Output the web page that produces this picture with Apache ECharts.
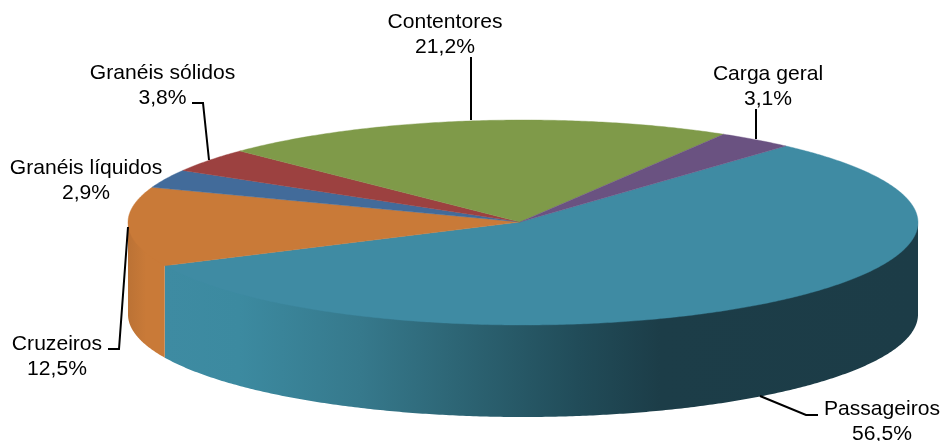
<!DOCTYPE html>
<html>
<head>
<meta charset="utf-8">
<style>html,body{margin:0;padding:0;background:#fff}#c{width:943px;height:441px}</style>
<script src="https://cdn.jsdelivr.net/npm/echarts@6/dist/echarts.min.js"></script>
</head>
<body>
<div id="c"></div>
<script>
const categories = ['Passageiros','Cruzeiros','Granéis líquidos','Granéis sólidos','Contentores','Carga geral'];
const shares = [56.5,12.5,2.9,3.8,21.2,3.1];
const colors = ['#3f8ba3','#c97a38','#426b9a','#9c4140','#7f9a49','#6a5281'];

const labelPos = [[882,422],[57,356.5],[86,181],[162.5,86],[445,35],[768,87]];
const leaders = [
  [[760,396],[806,415],[818,415]],
  [[108,349],[119,349],[128,227]],
  [],
  [[192,103],[203,103],[209,160]],
  [[471,57],[471,120]],
  [[756,109],[756,139]]
];
const CX=523, CY=222.5, RX=395, RY=102.5, DEPTH=92, AX=520, AY=222, START=48.3;

const total = shares.reduce((a,b)=>a+b,0);
let acc = START;
const spans = shares.map(v=>{const s=acc; acc-=v/total*360; return [s,acc];});
const rim = (t,dy)=>[CX+RX*Math.cos(t*Math.PI/180), CY-RY*Math.sin(t*Math.PI/180)+(dy||0)];
function arc(a,b,dy){const n=Math.max(2,Math.ceil(Math.abs(a-b)*2)),p=[];for(let i=0;i<=n;i++)p.push(rim(a+(b-a)*i/n,dy));return p;}

const chart = echarts.init(document.getElementById('c'),null,{renderer:'canvas'});
const fmt = v=>v.toFixed(1).replace('.',',')+'%';
const indexData = shares.map((v,i)=>[i,v]);

function wallItem(params,api){
  const i=api.value(0), s=spans[i];
  let a,b,fill;
  if(i===0){a=0;b=s[1];
    fill=new echarts.graphic.LinearGradient(918,0,164,0,[
      {offset:0,color:'#1c3c47'},{offset:0.342,color:'#1c3d48'},{offset:0.452,color:'#214c59'},
      {offset:0.585,color:'#2b6170'},{offset:0.74,color:'#36798c'},{offset:0.9,color:'#3c8aa0'},{offset:1,color:'#3e8ba2'}],true);
  } else if(i===1){
    a=spans[0][1];b=-180;
    fill=new echarts.graphic.LinearGradient(128,0,164,0,[{offset:0,color:'#bb7235'},{offset:0.5,color:'#c97a38'},{offset:1,color:'#c97a38'}],true);
  } else return null;
  // the upper edge runs a little under the top face so no seam shows along the rim
  const top=arc(a,b,-3), bot=arc(b,a,DEPTH);
  return {type:'polygon',shape:{points:top.concat(bot)},style:{fill:fill,stroke:null}};
}
function topItem(params,api){
  const i=api.value(0), s=spans[i];
  return {type:'polygon',shape:{points:[[AX,AY]].concat(arc(s[0],s[1],0))},
    style:{fill:colors[i],stroke:colors[i],lineWidth:0.4}};
}
function labelItem(params,api){
  const i=api.value(0), p=labelPos[i], ch=[];
  if(leaders[i].length) ch.push({type:'polyline',shape:{points:leaders[i]},style:{fill:null,stroke:'#000',lineWidth:2}});
  ch.push({type:'text',x:p[0],y:p[1],style:{text:categories[i]+'\n'+fmt(api.value(1)),
    font:'21.1px "Liberation Sans", Arial, sans-serif',fill:'#000',align:'center',verticalAlign:'middle',lineHeight:25}});
  return {type:'group',children:ch};
}
chart.setOption({
  animation:false,
  backgroundColor:'#fff',
  series:[
    {type:'custom',coordinateSystem:'none',renderItem:wallItem,data:indexData,silent:true,z:1},
    {type:'custom',coordinateSystem:'none',renderItem:topItem,data:indexData,silent:true,z:2},
    {type:'custom',coordinateSystem:'none',renderItem:labelItem,data:indexData,silent:true,z:3}
  ]
});
</script>
</body>
</html>
